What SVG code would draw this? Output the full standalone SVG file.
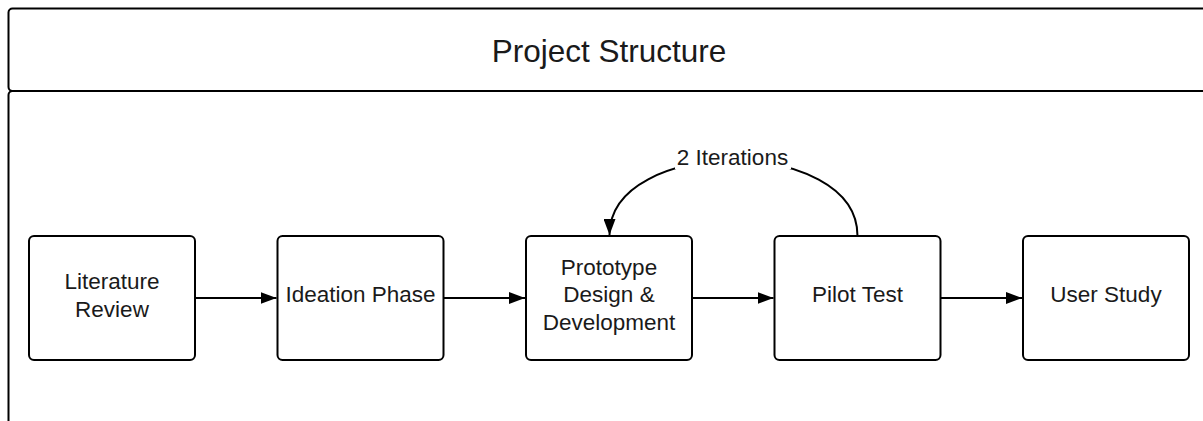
<svg xmlns="http://www.w3.org/2000/svg" width="1203" height="421" viewBox="0 0 1203 421">
  <style>
    .frame { fill: #ffffff; stroke: #000000; stroke-width: 2; }
    .box { fill: #ffffff; stroke: #000000; stroke-width: 2; }
    .lbl { font-family: "Liberation Sans", Arial, sans-serif; font-size: 22.5px; fill: #1a1a1a; text-anchor: middle; }
    .title { font-family: "Liberation Sans", Arial, sans-serif; font-size: 31.5px; fill: #1a1a1a; text-anchor: middle; }
    .edge { fill: none; stroke: #000000; stroke-width: 2; }
  </style>
  <defs>
    <marker id="arrow" viewBox="0 0 16 12" refX="16" refY="6" markerWidth="16" markerHeight="12" markerUnits="userSpaceOnUse" orient="auto">
      <path d="M0,0 L16,6 L0,12 Z" fill="#000000"/>
    </marker>
  </defs>
  <rect width="1203" height="421" fill="#ffffff"/>

  <g id="container">
    <rect class="frame" x="8.5" y="8.5" width="1220" height="82.5" rx="4" ry="4"/>
    <rect class="frame" x="8.5" y="91" width="1220" height="400" rx="4" ry="4"/>
    <text class="title" x="609" y="62">Project Structure</text>
  </g>

  <g id="connectors">
    <path class="edge" d="M195,298 L276.5,298" marker-end="url(#arrow)"/>
    <path class="edge" d="M443.5,298 L525,298" marker-end="url(#arrow)"/>
    <path class="edge" d="M692,298 L773.5,298" marker-end="url(#arrow)"/>
    <path class="edge" d="M940.5,298 L1022,298" marker-end="url(#arrow)"/>
    <path class="edge" d="M857.5,236 C857.5,136 609.5,136 609.5,235" marker-end="url(#arrow)"/>
    <rect x="675" y="138" width="116" height="31" fill="#ffffff"/>
    <text class="lbl" x="732.5" y="165">2 Iterations</text>
  </g>

  <g id="literature-review">
    <rect class="box" x="29" y="236" width="166" height="124" rx="5" ry="5"/>
    <text class="lbl" x="112" y="289">Literature</text>
    <text class="lbl" x="112" y="316.5">Review</text>
  </g>

  <g id="ideation-phase">
    <rect class="box" x="277.5" y="236" width="166" height="124" rx="5" ry="5"/>
    <text class="lbl" x="360.5" y="302">Ideation Phase</text>
  </g>

  <g id="prototype">
    <rect class="box" x="526" y="236" width="166" height="124" rx="5" ry="5"/>
    <text class="lbl" x="609" y="274.5">Prototype</text>
    <text class="lbl" x="609" y="302">Design &amp;</text>
    <text class="lbl" x="609" y="329.5">Development</text>
  </g>

  <g id="pilot-test">
    <rect class="box" x="774.5" y="236" width="166" height="124" rx="5" ry="5"/>
    <text class="lbl" x="857.5" y="302">Pilot Test</text>
  </g>

  <g id="user-study">
    <rect class="box" x="1023" y="236" width="166" height="124" rx="5" ry="5"/>
    <text class="lbl" x="1106" y="302">User Study</text>
  </g>
</svg>
